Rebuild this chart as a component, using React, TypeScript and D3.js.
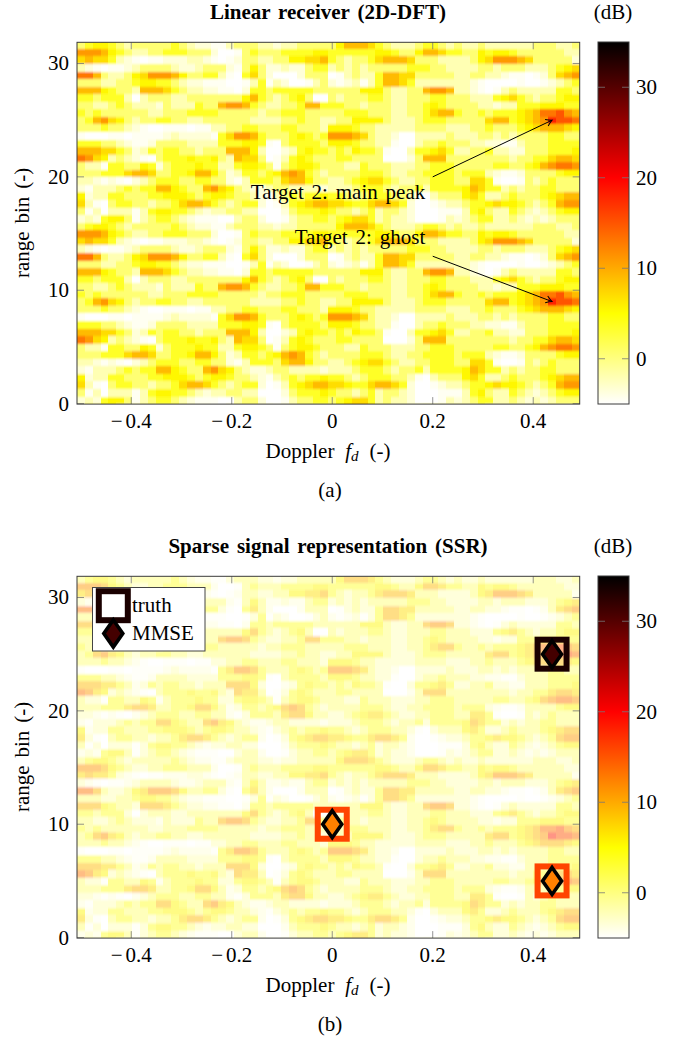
import React from "react";
import * as d3 from "d3";

// One repeating period of the range/Doppler map (16 range bins, 24 rows, 64 Doppler columns), bottom row first.
const mapRows = [
  "23256641 34554321 11003442 00134455 45677534 33200013 23455334 32323444",
  "41303331 35665543 23344330 00245556 54434534 43200011 13564335 43234566",
  "73104554 43445788 75434552 01356788 77655788 75200123 34556766 54345899",
  "62335544 45566654 56654432 13454556 55434555 44310344 46753345 44456788",
  "21333454 55886544 89764322 34433332 33345554 34453555 56875534 34455444",
  "33212102 34555445 54421355 54788644 33456775 43344555 44775100 14345444",
  "44455578 87445568 86423554 56898543 44445554 33445555 45553211 24444566",
  "43315544 65245556 55335665 41456654 44335444 33344555 44444554 45689aa9",
  "a9763432 10455565 56438774 01356544 45544440 00248884 44444443 44557887",
  "88877542 35455443 44488863 00235655 45465541 00355675 33445332 24445556",
  "55544321 12444433 33555665 10455554 66654433 10034454 44332211 34445555",
  "10001101 11123222 21579985 44456545 99987433 20033334 33344343 44445544",
  "44454432 10011101 13344554 44554443 66654433 33344443 33445444 56788876",
  "45897643 44554433 44444433 33445443 34466664 33345554 44447885 6789cbba",
  "54544444 43344455 55444443 44555444 44555444 33445788 54454555 678aab98",
  "44334543 33243335 44899854 33445885 55443444 33445654 44433233 55566655",
  "55455530 34443344 44444685 43456400 43444554 33444554 44333567 54344566",
  "88865443 88875433 22110255 45555544 44446664 33448998 33210134 33333554",
  "44433445 66554322 11100135 13200134 21231358 87533333 33210000 10012345",
  "aa843346 79998644 55310574 20002444 01343358 87744444 33443321 10124789",
  "32101123 44443223 44421464 22322455 34343444 44555443 33344344 43334567",
  "78775321 01122233 21012443 34466778 54344578 88744433 33467999 87444442",
  "99986543 34455544 42001454 44555566 55555566 54468875 54465665 44444433",
  "45665434 44445432 21134443 32334444 46888754 33345543 43343333 33444334",
];
// dB value standing for each letter used in mapRows.
const levelCodes = "0123456789abc".split("");
const levelDb = [-5, -4.5, -3.5, -2, 0.5, 3.5, 5.5, 7, 9, 11, 13, 15, 18];

const xTicks = [-0.4, -0.2, 0, 0.2, 0.4];
const yTicks = [0, 10, 20, 30];
const cbTicks = [0, 10, 20, 30];

const truthX = [0.4375, 0, 0.4375];
const truthY = [25, 10, 5];
const truthDb = [33.5, 16, 16];
const mmseDb = [31, 12.5, 12.5];

const hot = d3
  .scaleLinear<string>()
  .domain([-5, 5, 20, 35])
  .range(["#ffffff", "#ffff00", "#ff0000", "#000000"])
  .clamp(true);

const FONT = "'Liberation Serif', 'Times New Roman', serif";
const GRID = "#777";
const FS = 21;
const nCols = 64;
const rowsPerPeriod = mapRows.length;
const binsPerPeriod = 16;
const totalRows = 48;

const parsed = mapRows.map((r) =>
  r.replace(/ /g, "").split("").map((c) => levelDb[levelCodes.indexOf(c)])
);

const x = d3.scaleLinear().domain([-0.508, 0.4925]).range([77, 579.7]);

const wrap = (i: number, n: number) => ((i % n) + n) % n;

function Panel({
  top,
  title,
  caption,
  opacity,
  children,
}: {
  top: number;
  title: string;
  caption: string;
  opacity: number;
  children: (y: d3.ScaleLinear<number, number>) => React.ReactNode;
}) {
  const y = d3.scaleLinear().domain([0, 31.87]).range([top + 361.6, top + 0.3]);
  const cb = d3.scaleLinear().domain([-5, 35]).range([top + 362, top]);
  const colW = (x(0.4925) - x(-0.508)) / nCols;
  const rowBins = binsPerPeriod / rowsPerPeriod;
  const gid = "cb" + top;
  const stops = d3.range(-5, 35.01, 2.5);
  const bottom = y(0);
  const upper = y(31.87);
  return (
    <g fontFamily={FONT} fill="#000" fontSize={FS}>
      <defs>
        <clipPath id={"clip" + top}>
          <rect x={77} y={upper} width={502.7} height={bottom + 0.5 - upper} />
        </clipPath>
        <filter id={"soft" + top} x="-5%" y="-5%" width="110%" height="110%">
          <feGaussianBlur stdDeviation="0.7 1.3" />
        </filter>
      </defs>
      <g clipPath={`url(#clip${top})`}>
        <g opacity={opacity} filter={`url(#soft${top})`} shapeRendering="crispEdges">
          {d3.range(-3, totalRows + 3).map((r) =>
            d3.range(-3, nCols + 3).map((c) => (
              <rect
                key={r + "-" + c}
                x={x(-0.508) + c * colW}
                y={y((r + 1) * rowBins)}
                width={colW + 0.5}
                height={y(r * rowBins) - y((r + 1) * rowBins) + 0.5}
                fill={hot(parsed[wrap(r, rowsPerPeriod)][wrap(c, nCols)])}
              />
            ))
          )}
        </g>
      </g>
      {xTicks.map((t) => (
        <g key={t} stroke={GRID} strokeWidth={0.8}>
          <line x1={x(t)} x2={x(t)} y1={bottom + 0.4} y2={bottom - 6.5} />
          <line x1={x(t)} x2={x(t)} y1={upper} y2={upper + 7} />
        </g>
      ))}
      {yTicks.map((t) => (
        <g key={t} stroke={GRID} strokeWidth={0.8}>
          <line x1={77} x2={84} y1={y(t)} y2={y(t)} />
          <line x1={579.7} x2={572.7} y1={y(t)} y2={y(t)} />
        </g>
      ))}
      <rect x={77} y={upper} width={502.7} height={bottom + 0.5 - upper} fill="none" stroke="#3a3a3a" strokeWidth={1} />
      {xTicks.map((t) => (
        <text key={t} x={x(t)} y={bottom + 24} textAnchor="middle">
          {t < 0 ? (
            <>
              {"\u2212"}
              <tspan dx={3}>{d3.format(".1f")(-t)}</tspan>
            </>
          ) : t === 0 ? (
            "0"
          ) : (
            d3.format(".1f")(t)
          )}
        </text>
      ))}
      {yTicks.map((t) => (
        <text key={t} x={69} y={y(t) + 7} textAnchor="end">
          {t}
        </text>
      ))}
      <text x={328} y={top - 23} fontSize={21} fontWeight="bold" textAnchor="middle" wordSpacing={2.6}>
        {title}
      </text>
      <text x={613} y={top - 23} textAnchor="middle">
        (dB)
      </text>
      <text x={328} y={bottom + 54} textAnchor="middle" wordSpacing={2.6}>
        Doppler <tspan fontStyle="italic" dx={3}>f</tspan>
        <tspan fontStyle="italic" fontSize={15} dy={3}>d</tspan>
        <tspan dy={-3} dx={3}> (-)</tspan>
      </text>
      <text
        transform={`translate(29,${(bottom + upper) / 2}) rotate(-90)`}
        textAnchor="middle"
        wordSpacing={2.6}
      >
        range bin (-)
      </text>
      <text x={330} y={bottom + 93} textAnchor="middle">
        {caption}
      </text>
      <defs>
        <linearGradient id={gid} x1="0" x2="0" y1="1" y2="0">
          {stops.map((s) => (
            <stop key={s} offset={(s + 5) / 40} stopColor={hot(s)} />
          ))}
        </linearGradient>
      </defs>
      <rect x={598} y={cb(35)} width={31} height={cb(-5) - cb(35)} fill={`url(#${gid})`} stroke="#3a3a3a" strokeWidth={1} />
      {cbTicks.map((t) => (
        <g key={t}>
          <line x1={598} x2={605} y1={cb(t)} y2={cb(t)} stroke={GRID} strokeWidth={0.8} />
          <line x1={622} x2={629} y1={cb(t)} y2={cb(t)} stroke={GRID} strokeWidth={0.8} />
          <text x={636} y={cb(t) + 7}>
            {t}
          </text>
        </g>
      ))}
      {children(y)}
    </g>
  );
}

const diamond = (cx: number, cy: number) => {
  const w = 9.5;
  const h = 13.5;
  return `M${cx},${cy - h}L${cx + w},${cy}L${cx},${cy + h}L${cx - w},${cy}Z`;
};

export default function App() {
  return (
    <svg width={678} height={1038} style={{ position: "absolute", left: 0, top: 0, background: "#fff" }}>
      <defs>
        <marker id="arr" viewBox="-8 -5 10 10" refX="0" refY="0" markerWidth="10" markerHeight="10" markerUnits="userSpaceOnUse" orient="auto">
          <path d="M-6,-3.6Q-2.5,-1 0,0Q-2.5,1 -6,3.6" fill="none" stroke="#000" strokeWidth={1} />
        </marker>
      </defs>
      <Panel top={42} title="Linear receiver (2D-DFT)" caption="(a)" opacity={1}>
        {(y) => (
          <g>
            <line x1={x(0.2)} y1={y(20)} x2={x(0.4375)} y2={y(25)} stroke="#000" strokeWidth={1} markerEnd="url(#arr)" />
            <line x1={x(0.2)} y1={y(13)} x2={x(0.4375)} y2={y(9)} stroke="#000" strokeWidth={1} markerEnd="url(#arr)" />
            <text x={338} y={199} textAnchor="middle" wordSpacing={2.6}>Target 2: main peak</text>
            <text x={360} y={244} textAnchor="middle" wordSpacing={2.6}>Target 2: ghost</text>
          </g>
        )}
      </Panel>
      <Panel top={576} title="Sparse signal representation (SSR)" caption="(b)" opacity={0.48}>
        {(y) => (
          <g>
            {truthX.map((fd, i) => (
              <g key={i}>
                <rect x={x(fd) - 14.5} y={y(truthY[i]) - 14.5} width={29} height={29} fill="none" stroke={hot(truthDb[i])} strokeWidth={6} />
                <path d={diamond(x(fd), y(truthY[i]))} fill={hot(mmseDb[i])} stroke="#000" strokeWidth={3.6} />
              </g>
            ))}
            <rect x={92.5} y={587.5} width={112.5} height={63.5} fill="#fff" stroke="#444" strokeWidth={1} />
            <rect x={98.8} y={591.2} width={29} height={29} fill="#fff" stroke={hot(truthDb[0])} strokeWidth={6} />
            <path d={diamond(113.3, 633.5)} fill={hot(mmseDb[0])} stroke="#000" strokeWidth={3.6} />
            <text x={132} y={612}>truth</text>
            <text x={132} y={640}>MMSE</text>
          </g>
        )}
      </Panel>
    </svg>
  );
}
